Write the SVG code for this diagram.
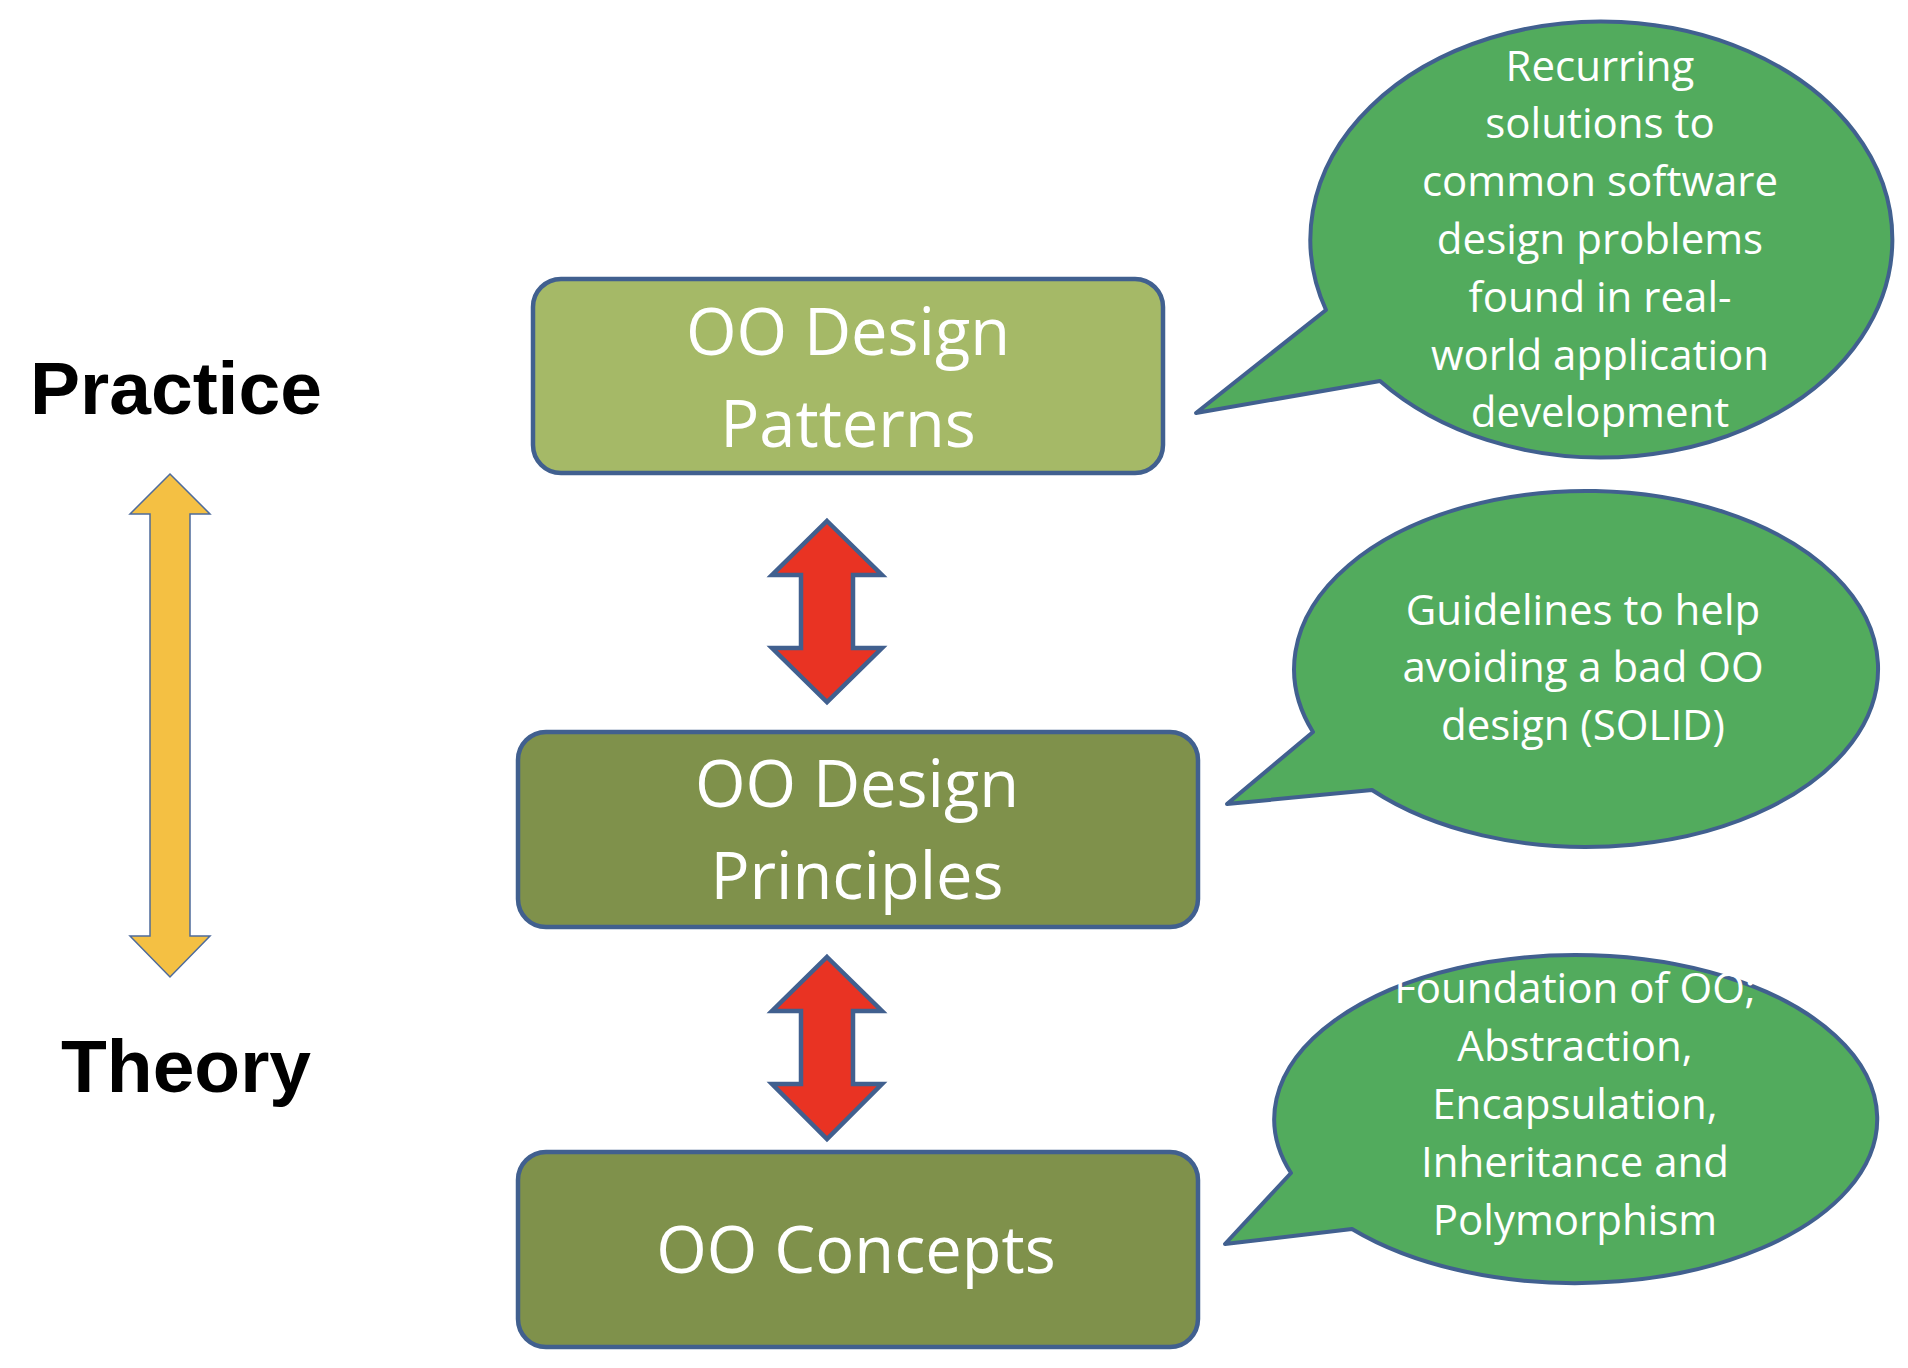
<svg xmlns="http://www.w3.org/2000/svg" width="1908" height="1368" viewBox="0 0 1908 1368">
  <style>
    .box { stroke: #41608F; stroke-width: 4.5; }
    .light { fill: #A5B967; }
    .dark { fill: #7F914B; }
    .boxtext { font-family: "Open Sans", "Noto Sans", sans-serif; font-size: 65px; fill: #FFFFFF; text-anchor: middle; }
    .bubble { fill: #52AB5D; stroke: #41608F; stroke-width: 4; stroke-linejoin: round; }
    .bubbletext { font-family: "Open Sans", "Noto Sans", sans-serif; font-size: 42px; fill: #FFFFFF; text-anchor: middle; }
    .axis { font-family: "Liberation Sans", Arial, sans-serif; font-weight: bold; font-size: 75px; fill: #000000; }
    .link { fill: #E93323; stroke: #41608F; stroke-width: 4.5; stroke-linejoin: miter; }
    .scale { fill: #F4C043; stroke: #4E6B9B; stroke-width: 1.5; }
  </style>

  <!-- Theory / practice scale on the left -->
  <g id="practice-label">
    <text class="axis" x="30" y="414">Practice</text>
  </g>
  <g id="theory-label">
    <text class="axis" x="61" y="1092">Theory</text>
  </g>
  <g id="scale-arrow">
    <polygon class="scale" points="170,474 210,514 190,514 190,936 210,936 170,977 130,936 150,936 150,514 130,514"/>
  </g>

  <!-- Layer boxes -->
  <g id="node-patterns">
    <rect class="box light" x="533" y="279" width="630" height="194" rx="28" ry="28"/>
    <text class="boxtext" x="848" y="355">OO Design</text>
    <text class="boxtext" x="848" y="447">Patterns</text>
  </g>
  <g id="node-principles">
    <rect class="box dark" x="518" y="732" width="680" height="195" rx="28" ry="28"/>
    <text class="boxtext" x="857" y="807">OO Design</text>
    <text class="boxtext" x="857" y="899">Principles</text>
  </g>
  <g id="node-concepts">
    <rect class="box dark" x="518" y="1152" width="680" height="195" rx="28" ry="28"/>
    <text class="boxtext" x="856" y="1273">OO Concepts</text>
  </g>

  <!-- Speech bubbles -->
  <g id="note-patterns">
    <path class="bubble" d="M 1326 310 A 291 218 0 1 1 1380 381 L 1196 413 Z"/>
    <text class="bubbletext" x="1600" y="81">Recurring</text>
    <text class="bubbletext" x="1600" y="138">solutions to</text>
    <text class="bubbletext" x="1600" y="196">common software</text>
    <text class="bubbletext" x="1600" y="254">design problems</text>
    <text class="bubbletext" x="1600" y="312">found in real-</text>
    <text class="bubbletext" x="1600" y="370">world application</text>
    <text class="bubbletext" x="1600" y="427">development</text>
  </g>
  <g id="note-principles">
    <path class="bubble" d="M 1313 732 A 292 178 0 1 1 1372 790 L 1227 804 Z"/>
    <text class="bubbletext" x="1583" y="625">Guidelines to help</text>
    <text class="bubbletext" x="1583" y="682">avoiding a bad OO</text>
    <text class="bubbletext" x="1583" y="740">design (SOLID)</text>
  </g>
  <g id="note-concepts">
    <path class="bubble" d="M 1291 1173 A 301.5 164 0 1 1 1352 1229 L 1225 1244 Z"/>
    <text class="bubbletext" x="1575" y="1003">Foundation of OO;</text>
    <text class="bubbletext" x="1575" y="1061">Abstraction,</text>
    <text class="bubbletext" x="1575" y="1119">Encapsulation,</text>
    <text class="bubbletext" x="1575" y="1177">Inheritance and</text>
    <text class="bubbletext" x="1575" y="1235">Polymorphism</text>
  </g>

  <!-- Two-way links between the layers -->
  <g id="connectors">
    <polygon class="link" points="827,521 882,575 853,575 853,648 882,648 827,702 772,648 801,648 801,575 772,575"/>
    <polygon class="link" points="827,957 882,1011 853,1011 853,1084 882,1084 827,1139 772,1084 801,1084 801,1011 772,1011"/>
  </g>
</svg>
